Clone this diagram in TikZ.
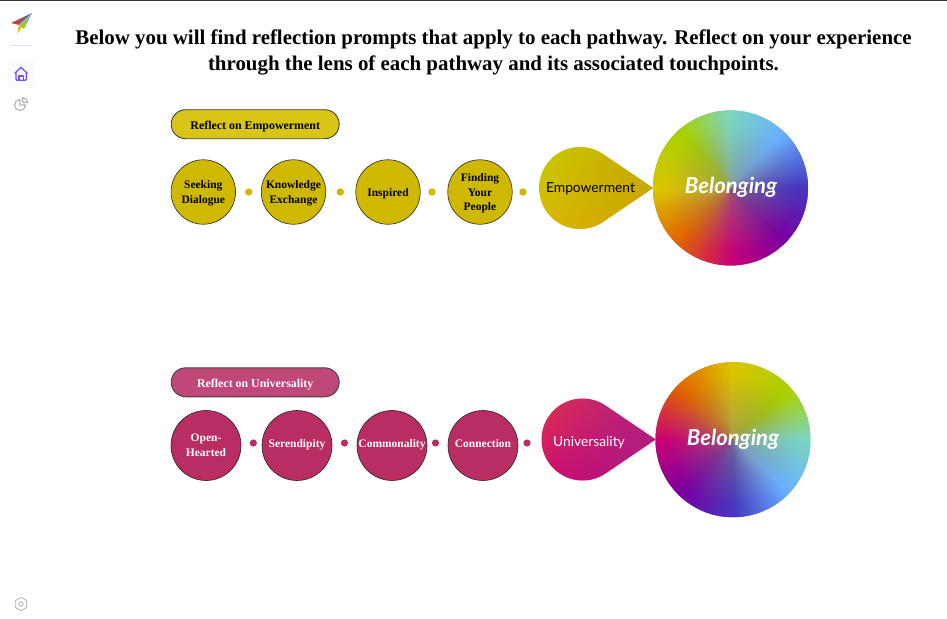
\documentclass[tikz,border=0pt]{standalone}
\usepackage{fontspec}
\setmainfont{Liberation Serif}
\newfontfamily\dropfont{Lato}
\usetikzlibrary{fadings}

\definecolor{indigo}{HTML}{4438C0}
\definecolor{sky}{HTML}{68B0FF}
\definecolor{teal}{HTML}{7CD6C0}
\definecolor{lime}{HTML}{A8D000}
\definecolor{gold}{HTML}{DCC400}
\definecolor{amber}{HTML}{E06400}
\definecolor{magenta}{HTML}{C80078}
\definecolor{violet}{HTML}{7A00A0}
\definecolor{empPill}{HTML}{D9C516}
\definecolor{empFill}{HTML}{CFB800}
\definecolor{uniPill}{HTML}{BF4878}
\definecolor{uniFill}{HTML}{B92C64}
\definecolor{sideGray}{HTML}{B4B6BE}
\definecolor{homePurple}{HTML}{6F4CFF}
\definecolor{dropA}{HTML}{C6CC00}
\definecolor{dropB}{HTML}{E4B000}
\definecolor{dropC}{HTML}{C8A800}
\definecolor{dropD}{HTML}{E03050}
\definecolor{dropE}{HTML}{C4007C}
\definecolor{dropF}{HTML}{B02080}
\definecolor{hubMid}{HTML}{8C8478}

\tikzfading[name=hubfade, inner color=transparent!40, outer color=transparent!100]

\tikzset{
  pill/.style={draw=black!75, line width=0.9pt, rounded corners=14.5pt, minimum width=168pt, minimum height=29pt, inner sep=0pt, text height=10pt, text depth=0pt, font=\bfseries\fontsize{11.9}{13}\selectfont},
  touch/.style={circle, draw=black!85, line width=0.6pt, inner sep=0pt},
  touchtext/.style={inner sep=0pt, align=center, font=\bfseries\fontsize{11.5}{14.6}\selectfont},
  dropname/.style={font=\dropfont\fontsize{13.8}{16}\selectfont, inner sep=0pt},
  hubname/.style={font=\dropfont\bfseries\itshape\fontsize{22}{24}\selectfont, text=white, inner sep=0pt},
  sideicon/.style={line width=1.2pt, line join=round}
}

% color wheel: fan of thin wedges, clip first
\newcommand{\conicfill}[1]{
  \foreach \ta/\ca/\tb/\cb in {#1} \foreach \p in {0,5,...,95} {
    \pgfmathsetmacro\angA{\ta+(\tb-\ta)*\p/100}
    \pgfmathsetmacro\angB{\angA+(\tb-\ta)/20+1.5}
    \pgfmathtruncatemacro\q{100-\p}
    \fill[\ca!\q!\cb] (0pt,0pt) -- (\angA:110pt) -- (\angB:110pt) -- cycle;
  }
}
\newcommand{\hubwheel}[3]{
  \begin{scope}[shift={(#1,#2)}]
    \clip (0pt,0pt) circle (77.5pt);
    \fill[hubMid] (0pt,0pt) circle (77.5pt);
    \begin{scope}[rotate=#3]
      \conicfill{0/indigo/45/sky, 45/sky/90/teal, 90/teal/130/lime, 130/lime/180/gold, 180/gold/225/amber, 225/amber/270/magenta, 270/magenta/315/violet, 315/violet/360/indigo}
    \end{scope}
    \fill[hubMid, path fading=hubfade] (0pt,0pt) circle (66pt);
  \end{scope}
}
\newcommand{\dropshape}{(55.8:41pt) arc[start angle=55.8, end angle=304.2, radius=41pt] -- (73pt,0pt) -- cycle}

\begin{document}
\begin{tikzpicture}[x=1pt, y=-1pt]
\useasboundingbox (0,0) rectangle (947,618);
\fill[white] (0,0) rectangle (947,618);
\fill[black!80] (0,0) rectangle (947,1);

% side bar
\shade[left color=amber!60!magenta, right color=indigo!70!sky] (11,23) -- (32,13) -- (19,25) -- cycle;
\shade[left color=gold, right color=teal] (19,25) -- (32,13) -- (17,34) -- cycle;
\shade[left color=lime, right color=sky] (32,13) -- (24,29) -- (20,26) -- cycle;
\draw[black!12, line width=0.7pt] (10,45) -- (32,45);
\fill[homePurple!3, rounded corners=4pt] (7,60) rectangle (35,88);
\draw[homePurple, sideicon] (14.7,73.5) -- (21,67.3) -- (27.5,73.5);
\draw[homePurple, sideicon, rounded corners=1pt] (16,72.5) -- (16,80.3) -- (26.2,80.3) -- (26.2,72.5);
\draw[homePurple, sideicon] (19,80.3) -- (19,76) -- (23.2,76) -- (23.2,80.3);
\draw[sideGray, sideicon] (25.5,105) arc[start angle=0, end angle=-270, radius=5.5pt] -- (20,105) -- cycle;
\draw[sideGray, sideicon] (22.7,102.5) -- (22.7,97.5) arc[start angle=90, end angle=0, radius=5pt] -- cycle;
\draw[sideGray, line width=0.9pt, line join=round, rounded corners=0.8pt] (21,597.3) -- (26.8,600.6) -- (26.8,607.4) -- (21,610.7) -- (15.2,607.4) -- (15.2,600.6) -- cycle;
\draw[sideGray, line width=0.9pt] (21,604) circle (2.2pt);

% title
\node[align=center, inner sep=0pt, font=\bfseries\fontsize{20.9}{26}\selectfont] (title) at (493.5,52.5) {Below you will find reflection prompts that apply to each pathway. Reflect on your experience\\through the lens of each pathway and its associated touchpoints.};

% empowerment row
\node[pill, fill=empPill] (empPrompt) at (255.2,124.2) {Reflect on Empowerment};
\foreach \x/\nm/\txt in {203.3/seek/Seeking\\Dialogue, 293.5/know/Knowledge\\Exchange, 388/insp/Inspired, 480/find/Finding\\Your\\People} {
  \node[touch, fill=empFill, minimum size=64.5pt] (\nm) at (\x,192) {};
  \node[touchtext] (\nm text) at (\x,193.5) {\txt};
}
\foreach \x in {248.7, 340.3, 432, 523} \fill[empFill] (\x,192) circle (3.7pt);
\begin{scope}[shift={(580,188)}]
  \shade[top color=dropA, bottom color=dropB, shading angle=20] \dropshape;
  \fill[dropC, path fading=west] \dropshape;
\end{scope}
\node[dropname] (empDrop) at (590.5,189) {Empowerment};
\hubwheel{730.5}{188}{0}
\node[hubname] (empHub) at (731,187) {Belonging};

% universality row
\node[pill, fill=uniPill, text=white] (uniPrompt) at (255.2,382.3) {Reflect on Universality};
\foreach \x/\y/\nm/\txt in {206/445/open/Open-\\Hearted, 297/445/seren/Serendipity, 392/444.5/common/Commonality, 483/444/conn/Connection} {
  \node[touch, fill=uniFill, minimum size=70pt] (\nm) at (\x,445.5) {};
  \node[touchtext, text=white] (\nm text) at (\x,\y) {\txt};
}
\foreach \x in {253.3, 344.5, 435.5, 527} \fill[uniFill] (\x,443) circle (3.6pt);
\begin{scope}[shift={(582.5,439.5)}]
  \shade[top color=dropD, bottom color=dropE, shading angle=20] \dropshape;
  \fill[dropF, path fading=west] \dropshape;
\end{scope}
\node[dropname, text=white] (uniDrop) at (589,442.5) {Universality};
\hubwheel{733}{439.7}{-90}
\node[hubname] (uniHub) at (733,439) {Belonging};
\end{tikzpicture}
\end{document}
